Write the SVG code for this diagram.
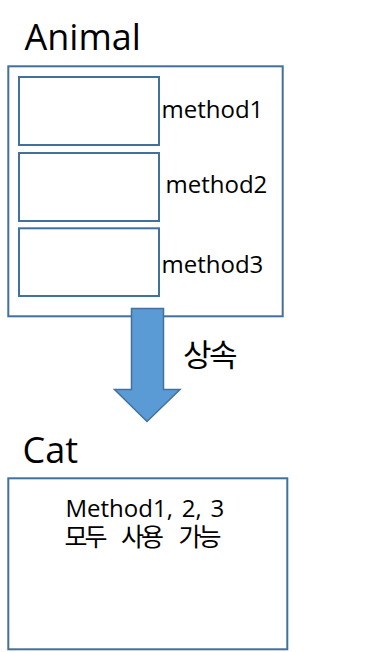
<svg xmlns="http://www.w3.org/2000/svg" width="382" height="652" viewBox="0 0 382 652">
<style>
.box{fill:#fff;stroke:#41719C;stroke-width:2}
.t{font-family:"Open Sans","Noto Sans CJK KR",sans-serif;fill:#000}
.title{font-size:36px}
.m{font-size:24px}
.k{font-family:"Noto Sans CJK KR","Open Sans",sans-serif;fill:#000}
.arrow{fill:#5B9BD5;stroke:#41719C;stroke-width:1.5;stroke-linejoin:miter}
</style>
<rect width="382" height="652" fill="#fff"/>
<g id="animal">
<text class="t title" x="24.5" y="50">Animal</text>
<rect class="box" x="8.3" y="66.3" width="274.4" height="250"/>
</g>
<g id="method1">
<rect class="box" x="19" y="77" width="140" height="68"/>
<text class="t m" x="161.5" y="118">method1</text>
</g>
<g id="method2">
<rect class="box" x="19" y="153" width="140" height="68"/>
<text class="t m" x="165.5" y="192.5">method2</text>
</g>
<g id="method3">
<rect class="box" x="19" y="228.3" width="140" height="67.7"/>
<text class="t m" x="161.5" y="272.5">method3</text>
</g>
<g id="connectors">
<path class="arrow" d="M131.5,308.5 H163.5 V389.5 H180 L147,421.5 L114.5,389.5 H131.5 Z"/>
<text class="k" x="183" y="366" font-size="31" letter-spacing="-2.5">상속</text>
</g>
<g id="cat">
<text class="t title" x="22.5" y="462.5">Cat</text>
<rect class="box" x="8.3" y="478.3" width="279" height="171"/>
<text class="t" x="65.5" y="516.5" font-size="24" word-spacing="2.6">Method1, 2, 3</text>
<text class="k" y="546" font-size="25" letter-spacing="-3"><tspan x="64.5">모두 </tspan><tspan x="121">사용 </tspan><tspan x="178.5">가능</tspan></text>
</g>
</svg>
